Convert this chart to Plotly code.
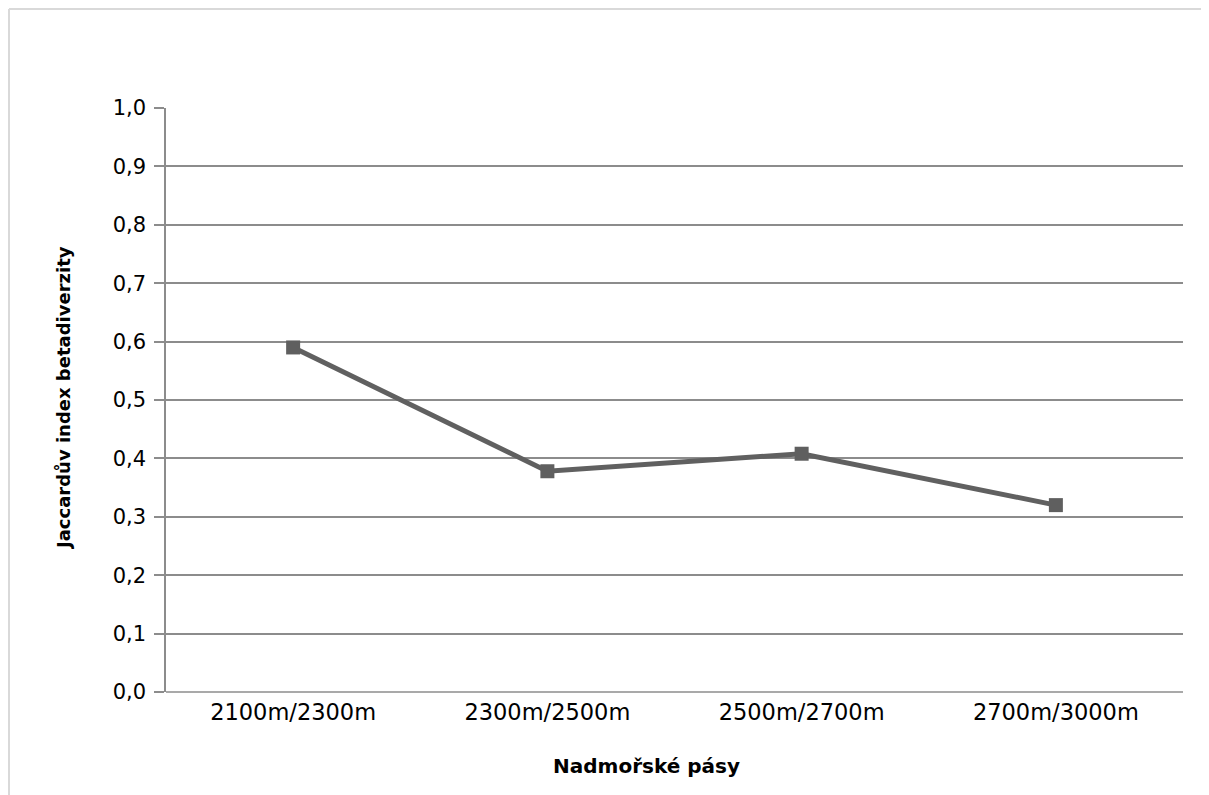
import plotly.graph_objects as go

categories = ["2100m/2300m", "2300m/2500m", "2500m/2700m", "2700m/3000m"]
jaccard = [0.59, 0.378, 0.408, 0.32]
y_ticks = [0.0, 0.1, 0.2, 0.3, 0.4, 0.5, 0.6, 0.7, 0.8, 0.9, 1.0]
y_tick_labels = ["0,0", "0,1", "0,2", "0,3", "0,4", "0,5", "0,6", "0,7", "0,8", "0,9", "1,0"]

# page is shown with an 8px body margin, so figure is 8px smaller
W, H = 1201, 787
PL, PR, PT, PB = 166, 1183, 108, 692  # plot area in page pixels
L, T = PL - 8, PT - 8
R = W - (PR - 8)
B = H - (PB - 8)
pw, ph = PR - PL, PB - PT

def px(x):
    return (x - PL) / pw

def py(y):
    return (PB - y) / ph

font_family = "DejaVu Sans, sans-serif"

fig = go.Figure()
fig.add_trace(go.Scatter(
    x=categories, y=jaccard, mode="lines+markers",
    line=dict(color="#606060", width=5),
    marker=dict(symbol="square", size=14, color="#5f5f5f"),
    showlegend=False, cliponaxis=False,
))

fig.update_layout(
    width=W, height=H,
    margin=dict(l=L, r=R, t=T, b=B, pad=0),
    paper_bgcolor="white", plot_bgcolor="white",
    font=dict(family=font_family, color="#000000", size=21),
    xaxis=dict(
        type="category", range=[-0.5, 3.5],
        showgrid=False, showline=False, zeroline=False,
        ticks="", tickfont=dict(size=22.5), ticklabelstandoff=4,
    ),
    yaxis=dict(
        range=[0, 1.0], tickvals=y_ticks, ticktext=y_tick_labels,
        showgrid=True, gridcolor="#8c8c8c", gridwidth=1.5,
        showline=True, linecolor="#8c8c8c", linewidth=1.5,
        zeroline=False, ticks="outside", ticklen=10, tickcolor="#8c8c8c", tickwidth=1.5,
        tickfont=dict(size=21), ticklabelstandoff=4,
    ),
    annotations=[
        dict(text="<b>Nadmořské pásy</b>", xref="paper", yref="paper",
             x=px(646), y=py(766), xanchor="center", yanchor="middle",
             showarrow=False, font=dict(size=20)),
        dict(text="<b>Jaccardův index betadiverzity</b>", xref="paper", yref="paper",
             x=px(63), y=py(398), xanchor="center", yanchor="middle", textangle=-90,
             showarrow=False, font=dict(size=18)),
    ],
    shapes=[
        dict(type="line", xref="paper", yref="paper", x0=px(9), x1=px(1220), y0=py(9), y1=py(9),
             line=dict(color="#d9d9d9", width=2)),
        dict(type="line", xref="paper", yref="paper", x0=px(9), x1=px(9), y0=py(9), y1=py(800),
             line=dict(color="#d9d9d9", width=2)),
        dict(type="line", xref="paper", yref="paper", x0=0, x1=1, y0=0, y1=0,
             line=dict(color="#8c8c8c", width=1.5)),
    ],
)

fig.write_html("out.html")
